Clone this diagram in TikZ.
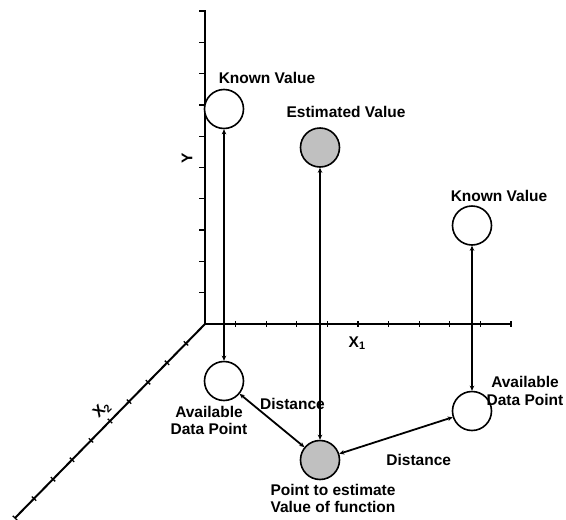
\documentclass[tikz,border=0pt]{standalone}
\usepackage{fontspec}
\setmainfont{Liberation Sans}
\usetikzlibrary{arrows.meta}
\definecolor{shade}{RGB}{192,192,192}
\begin{document}
\begin{tikzpicture}[x=1pt,y=-1pt,
  axis/.style={line width=2pt},
  tick/.style={line width=1.3pt},
  ptnode/.style={circle,draw,line width=1.6pt,minimum size=39pt,inner sep=0pt,fill=white},
  estnode/.style={ptnode,fill=shade},
  lab/.style={font=\fontsize{15.5}{17.5}\selectfont\bfseries,inner sep=0pt},
  conn/.style={line width=1.8pt,{Stealth[length=5pt,width=4.5pt]}-{Stealth[length=5pt,width=4.5pt]}},
]
\useasboundingbox (0,0) rectangle (566,520);
% axes
\coordinate (O) at (205,324);
\coordinate (Ytop) at (205,10);
\coordinate (X1end) at (511,324);
\coordinate (X2end) at (15,518);
\draw[axis,line join=miter] (Ytop) -- (O) -- (X1end);
\draw[axis] (O) -- (X2end);
\foreach \k in {1,...,10} {
  \draw[tick] (199,{324-31.3*\k}) -- (205,{324-31.3*\k});
  \draw[tick] ({205+30.6*\k},321) -- ({205+30.6*\k},327);
  \draw[tick] ({205-19*\k-2.2},{324+19.4*\k-2.1}) -- ({205-19*\k+2.2},{324+19.4*\k+2.1});
}
% axis labels
\node[lab,rotate=90] (ylab) at (187,158) {Y};
\node[lab,anchor=base west] (x1lab) at (348.5,347) {X\textsubscript{1}};
\node[lab,rotate=45] (x2lab) at (102,410) {X\textsubscript{2}};
% points
\node[ptnode] (kv1) at (224,109) {};
\node[estnode] (ev) at (320,147.5) {};
\node[ptnode] (kv2) at (472,225.5) {};
\node[ptnode] (adp1) at (224,381) {};
\node[estnode] (pe) at (320,460) {};
\node[ptnode] (adp2) at (472,411) {};
% connectors
\draw[conn] (kv1) -- (adp1);
\draw[conn] (ev) -- (pe);
\draw[conn] (kv2) -- (adp2);
\draw[conn] (adp1) -- (pe);
\draw[conn] (pe) -- (adp2);
% labels
\node[lab,anchor=base] (kv1lab) at (267,83.5) {Known Value};
\node[lab,anchor=base] (evlab) at (346,117.5) {Estimated Value};
\node[lab,anchor=base] (kv2lab) at (499,201.5) {Known Value};
\node[lab,anchor=north,align=center] (adp1lab) at (209,405.7) {Available\\Data Point};
\node[lab,anchor=north,align=center] (adp2lab) at (525,376.5) {Available\\Data Point};
\node[lab,anchor=north,align=center] (pelab) at (333,483.7) {Point to estimate\\Value of function};
\node[lab,anchor=base] (d1lab) at (292.5,409) {Distance};
\node[lab,anchor=base] (d2lab) at (418.7,465) {Distance};
\end{tikzpicture}
\end{document}
